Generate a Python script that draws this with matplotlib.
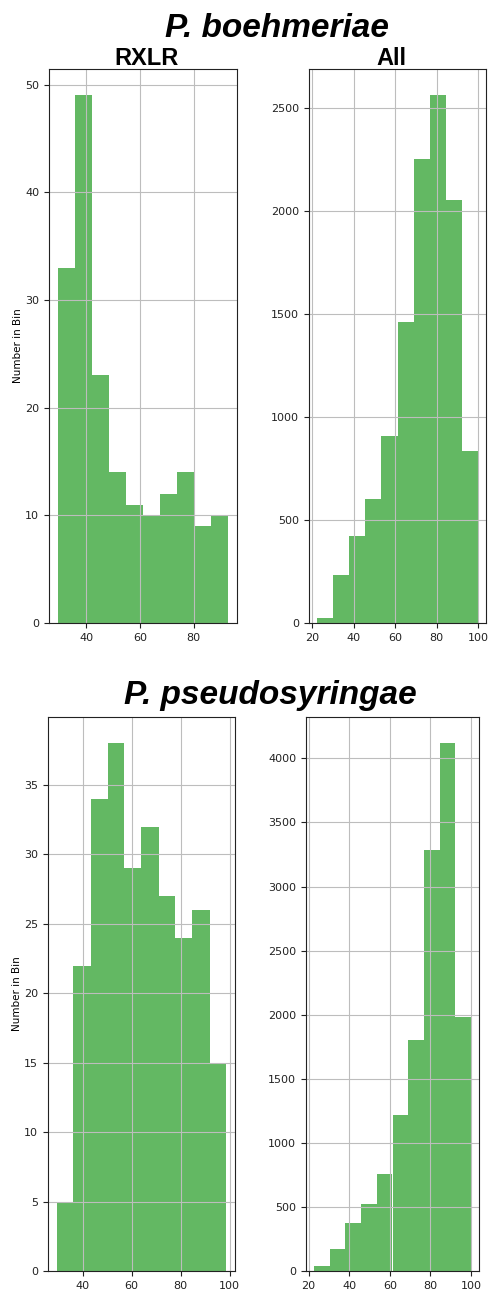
import numpy as np
import matplotlib
matplotlib.use("Agg")
import matplotlib.pyplot as plt

# P. boehmeriae, RXLR genes
boeh_rxlr_edges = [29.3, 35.7, 42.0, 48.4, 54.7, 61.1, 67.5, 73.8, 80.2, 86.5, 92.9]
boeh_rxlr_counts = [33, 49, 23, 14, 11, 10, 12, 14, 9, 10]

# P. boehmeriae, all genes
boeh_all_edges = [22.3, 30.1, 37.8, 45.6, 53.4, 61.2, 68.9, 76.7, 84.5, 92.2, 100.0]
boeh_all_counts = [26, 235, 424, 600, 906, 1463, 2252, 2561, 2053, 835]

# P. pseudosyringae, RXLR genes
pseu_rxlr_edges = [29.4, 36.3, 43.3, 50.2, 57.1, 64.0, 71.0, 77.9, 84.8, 91.8, 98.7]
pseu_rxlr_counts = [5, 22, 34, 38, 29, 32, 27, 24, 26, 15]

# P. pseudosyringae, all genes
pseu_all_edges = [22.6, 30.3, 38.1, 45.8, 53.6, 61.3, 69.0, 76.8, 84.5, 92.3, 100.0]
pseu_all_counts = [42, 172, 378, 519, 760, 1216, 1802, 3287, 4117, 1979]

W, H = 488, 1289
fig = plt.figure(figsize=(W / 100, H / 100), dpi=100)


def add_ax(l, r, t, b):
    return fig.add_axes([l / W, 1 - b / H, (r - l) / W, (b - t) / H])


def draw_hist(ax, edges, counts, ylabel=False):
    edges = np.array(edges)
    ax.bar(edges[:-1], counts, width=np.diff(edges), align="edge",
           color="#2ca02c", alpha=0.74, linewidth=0)
    ax.grid(True, color="#bdbdbd", linewidth=0.8)
    ax.tick_params(labelsize=8, colors="#222222")
    for s in ax.spines.values():
        s.set_color("#222222")
    if ylabel:
        ax.set_ylabel("Number in Bin", fontsize=7.5)
        ax.yaxis.set_label_coords(-0.14, 0.5)


ax1 = add_ax(49, 237, 69, 623)
ax2 = add_ax(309, 486, 69, 623)
ax3 = add_ax(48, 235, 717, 1271)
ax4 = add_ax(306, 479, 717, 1271)

draw_hist(ax1, boeh_rxlr_edges, boeh_rxlr_counts, ylabel=True)
draw_hist(ax2, boeh_all_edges, boeh_all_counts)
draw_hist(ax3, pseu_rxlr_edges, pseu_rxlr_counts, ylabel=True)
draw_hist(ax4, pseu_all_edges, pseu_all_counts)

ax1.set_yticks([0, 10, 20, 30, 40, 50])
ax2.set_yticks([0, 500, 1000, 1500, 2000, 2500])
ax3.set_yticks([0, 5, 10, 15, 20, 25, 30, 35])
ax4.set_yticks(range(0, 4001, 500))
ax1.set_xticks([40, 60, 80])
ax2.set_xticks([20, 40, 60, 80, 100])
ax3.set_xticks([40, 60, 80, 100])
ax4.set_xticks([20, 40, 60, 80, 100])

title_font = dict(family=["Liberation Sans", "DejaVu Sans"], weight="bold")
fig.text(277 / W, 1 - 37 / H, "P. boehmeriae", ha="center", va="baseline",
         fontsize=24, style="italic", **title_font)
fig.text(147 / W, 1 - 65 / H, "RXLR", ha="center", va="baseline",
         fontsize=17, **title_font)
fig.text(391 / W, 1 - 65 / H, "All", ha="center", va="baseline",
         fontsize=17, **title_font)
fig.text(270 / W, 1 - 704 / H, "P. pseudosyringae", ha="center", va="baseline",
         fontsize=24, style="italic", **title_font)

fig.savefig("out.png", dpi=100)
